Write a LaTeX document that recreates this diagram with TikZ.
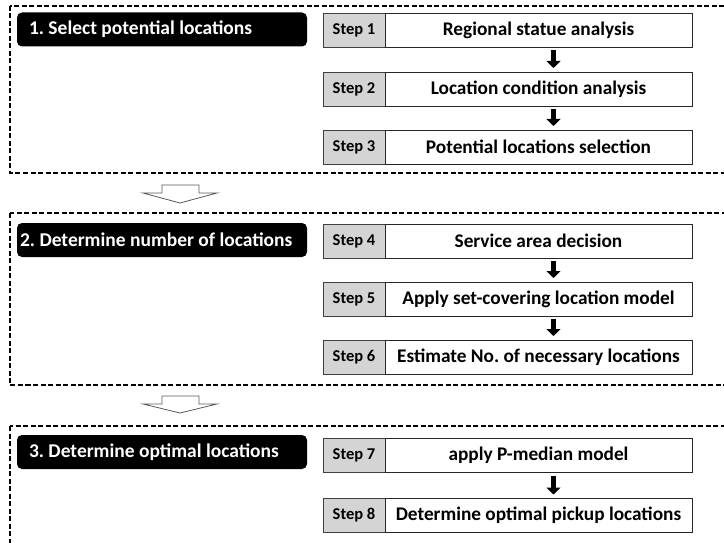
\documentclass[tikz,border=0pt]{standalone}
\usepackage{fontspec}
\setmainfont{Carlito}
\usetikzlibrary{arrows.meta,positioning}
\frenchspacing

\tikzset{
  groupbox/.style={draw, dash pattern=on 5pt off 2.5pt, line width=1.1pt},
  header/.style={fill=black, text=white, rounded corners=5pt, text width=266pt,
    minimum height=34pt, inner xsep=12pt, align=flush left,
    font=\fontsize{19.5}{21}\selectfont\bfseries},
  steplabel/.style={draw=black!75, fill=black!17, line width=0.8pt, outer sep=0pt,
    minimum width=62pt, minimum height=34pt, inner sep=0pt,
    font=\fontsize{16.5}{18}\selectfont\bfseries},
  stepbox/.style={draw=black!85, fill=white, line width=0.8pt, outer sep=0pt,
    minimum width=307pt, minimum height=34pt, inner sep=0pt,
    font=\fontsize{19.3}{21}\selectfont\bfseries},
  flow/.style={line width=5pt, -{Triangle[length=7pt,width=14pt]},
    shorten <=3pt, shorten >=4pt},
  hollow/.style={draw=black!65, fill=white, line width=0.8pt}
}

\begin{document}
\begin{tikzpicture}[x=1pt,y=-1pt]
  \useasboundingbox (0,0) rectangle (724,543);
  \clip (0,0) rectangle (724,543);

  % dashed groups
  \draw[groupbox] (10,6)   rectangle (740,173);
  \draw[groupbox] (10,213) rectangle (740,385);
  \draw[groupbox] (10,426) rectangle (740,560);

  % group headers
  \node[header] (h1) at (162,29.5) {1. Select potential locations};
  \node[header, inner xsep=3pt, text width=284pt] (h2) at (162,240)
    {\hbox{2. Determine number of locations}};
  \node[header] (h3) at (162,452)  {3. Determine optimal locations};

  % steps
  \node[steplabel] (l1) at (354,30)    {Step 1};
  \node[stepbox, right=0pt of l1] (s1) {Regional statue analysis};
  \node[steplabel] (l2) at (354,89)    {Step 2};
  \node[stepbox, right=0pt of l2] (s2) {Location condition analysis};
  \node[steplabel] (l3) at (354,147)   {Step 3};
  \node[stepbox, right=0pt of l3] (s3) {Potential locations selection};

  \node[steplabel] (l4) at (354,241)   {Step 4};
  \node[stepbox, right=0pt of l4] (s4) {Service area decision};
  \node[steplabel] (l5) at (354,299)   {Step 5};
  \node[stepbox, right=0pt of l5] (s5) {Apply set-covering location model};
  \node[steplabel] (l6) at (354,357)   {Step 6};
  \node[stepbox, right=0pt of l6] (s6) {Estimate No. of necessary locations};

  \node[steplabel] (l7) at (354,455.5) {Step 7};
  \node[stepbox, right=0pt of l7] (s7) {apply P-median model};
  \node[steplabel] (l8) at (354,515.5) {Step 8};
  \node[stepbox, right=0pt of l8] (s8) {Determine optimal pickup locations};

  % step arrows
  \draw[flow] ([xshift=15pt]s1.south) -- ([xshift=15pt]s2.north);
  \draw[flow] ([xshift=15pt]s2.south) -- ([xshift=15pt]s3.north);
  \draw[flow] ([xshift=15pt]s4.south) -- ([xshift=15pt]s5.north);
  \draw[flow] ([xshift=15pt]s5.south) -- ([xshift=15pt]s6.north);
  \draw[flow] ([xshift=15pt]s7.south) -- ([xshift=15pt]s8.north);

  % arrows between groups
  \draw[hollow] (162,185) -- (199,185) -- (199,193) -- (217,193)
    -- (180,203) -- (143,193) -- (162,193) -- cycle;
  \draw[hollow] (162,396) -- (199,396) -- (199,404) -- (217,404)
    -- (180,413) -- (143,404) -- (162,404) -- cycle;
\end{tikzpicture}
\end{document}
